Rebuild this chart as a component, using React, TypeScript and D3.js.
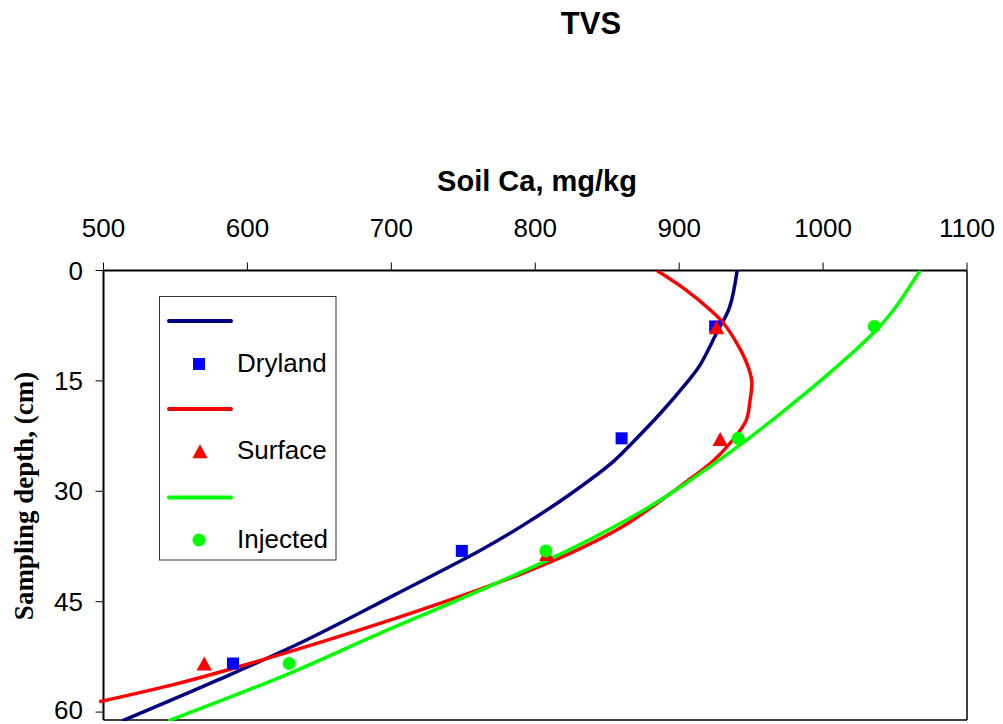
import React from "react";
import * as d3 from "d3";

// ---- Data ----
const xTicks = [500, 600, 700, 800, 900, 1000, 1100];
const yTicks = [0, 15, 30, 45, 60];

const seriesNames = ["Dryland", "Surface", "Injected"];

// observed points: depth (cm) and soil Ca (mg/kg)
const pointDepths = [7.6, 22.8, 38.1, 53.4];
const drylandPoints = [925, 860, 749, 590];
const surfaceDepths = [7.8, 23.0, 38.6, 53.5];
const surfacePoints = [926, 928.5, 808, 570];
const injectedPoints = [1035.6, 941, 807.4, 629];

// fitted curves: depth list + Ca values
const drylandCurveDepth = [0, 5, 8.5, 13, 15.3, 19.4, 23.5, 26, 30.7, 34.8, 38, 44, 50.2, 55.6, 61.2];
const drylandCurveCa = [940.3, 935, 926, 914, 905, 887, 867, 854, 822, 790, 762, 703, 641, 580, 513];

const surfaceCurveDepth = [0, 2.4, 5.6, 7.2, 10.2, 12.6, 15.1, 17.6, 20.4, 23.2, 26, 29, 32, 35, 38, 41, 43.5, 47, 50.5, 53.5, 56.1, 58.6];
const surfaceCurveCa = [884.5, 903, 923, 931, 941, 947, 950.5, 949.3, 946.5, 936.5, 923, 903, 882, 859, 829, 793, 759, 707, 651, 600, 552, 497];

const injectedCurveDepth = [0, 5.4, 8.5, 13.5, 19.5, 23, 26, 29, 32.5, 38.3, 43.6, 49.3, 55, 61.2];
const injectedCurveCa = [1067.4, 1048.8, 1035, 1007, 970, 947, 926, 904, 876, 820, 760, 692, 626, 545];

const W = 1003;
const H = 724;
const left = 103.5;
const right = 967;
const top = 270.5;
const bottom = 720;

export default function App() {
  const x = d3.scaleLinear().domain([500, 1100]).range([left, right]);
  const y = d3.scaleLinear().domain([0, 61]).range([top, top + 7.36 * 61]);

  const line = d3
    .line<[number, number]>()
    .x((d) => x(d[1]))
    .y((d) => y(d[0]))
    .curve(d3.curveCatmullRom.alpha(0.5));

  const curves = [
    { depth: drylandCurveDepth, ca: drylandCurveCa, color: "#000080" },
    { depth: surfaceCurveDepth, ca: surfaceCurveCa, color: "#FF0000" },
    { depth: injectedCurveDepth, ca: injectedCurveCa, color: "#00FF00" },
  ];

  const font = "Arial, 'Liberation Sans', sans-serif";
  const tri = (cx: number, cy: number, s: number) =>
    `M${cx},${cy - s * 0.55} L${cx + s * 0.55},${cy + s * 0.45} L${cx - s * 0.55},${cy + s * 0.45} Z`;

  return (
    <svg
      width={W}
      height={H}
      style={{ position: "absolute", left: 0, top: 0, background: "#fff" }}
      fontFamily={font}
    >
      <defs>
        <clipPath id="plotClip">
          <rect x={95} y={top} width={right - 95} height={bottom - top + 1} />
        </clipPath>
      </defs>
      <rect x={0} y={0} width={W} height={H} fill="#fff" />

      {/* title */}
      <text x={591} y={34} textAnchor="middle" fontSize={31} fontWeight="bold">
        TVS
      </text>
      <text x={537} y={191} textAnchor="middle" fontSize={29} fontWeight="bold">
        Soil Ca, mg/kg
      </text>

      {/* frame */}
      <line x1={right} x2={right} y1={top} y2={bottom} stroke="#000" strokeWidth={1.5} />
      <line x1={left} x2={right} y1={bottom} y2={bottom} stroke="#000" strokeWidth={1.5} />
      <line x1={left} x2={right} y1={top} y2={top} stroke="#000" strokeWidth={2} />
      <line x1={left} x2={left} y1={top} y2={bottom} stroke="#000" strokeWidth={2} />

      {/* x ticks */}
      {xTicks.map((t) => (
        <g key={t}>
          <line x1={x(t)} x2={x(t)} y1={top} y2={top - 8} stroke="#000" strokeWidth={1} />
          <text x={x(t)} y={237} textAnchor="middle" fontSize={26}>
            {t}
          </text>
        </g>
      ))}
      {/* y ticks */}
      {yTicks.map((t) => (
        <g key={t}>
          <line x1={left - 8} x2={left} y1={y(t)} y2={y(t)} stroke="#000" strokeWidth={1} />
          <text x={83} y={Math.min(y(t) + 9, 719)} textAnchor="end" fontSize={26}>
            {t}
          </text>
        </g>
      ))}

      <text
        transform="translate(33,496) rotate(-90)"
        textAnchor="middle"
        fontSize={27}
        fontWeight="bold"
        fontFamily="'Liberation Serif', 'Times New Roman', serif"
      >
        Sampling depth, (cm)
      </text>

      {/* curves */}
      <g clipPath="url(#plotClip)">
        {curves.map((c, i) => (
          <path
            key={i}
            d={line(c.depth.map((d, j) => [d, c.ca[j]] as [number, number])) || ""}
            fill="none"
            stroke={c.color}
            strokeWidth={3.5}
            strokeLinejoin="round"
          />
        ))}
      </g>

      {/* markers */}
      {drylandPoints.map((v, i) => (
        <rect key={"d" + i} x={x(v) - 6} y={y(pointDepths[i]) - 6} width={12} height={12} fill="#0000FF" />
      ))}
      {surfacePoints.map((v, i) => (
        <path key={"s" + i} d={tri(x(v), y(surfaceDepths[i]), 14)} fill="#FF0000" />
      ))}
      {injectedPoints.map((v, i) => (
        <circle key={"i" + i} cx={x(v)} cy={y(pointDepths[i])} r={6.5} fill="#00FF00" />
      ))}

      {/* legend */}
      <rect x={159.5} y={296.5} width={176.5} height={263.5} fill="#fff" stroke="#333" strokeWidth={1} />
      <line x1={169} x2={231} y1={321} y2={321} stroke="#000080" strokeWidth={4} strokeLinecap="round" />
      <rect x={193} y={358} width={12} height={12} fill="#0000FF" />
      <text x={237} y={372} fontSize={26}>{seriesNames[0]}</text>
      <line x1={169} x2={231} y1={409} y2={409} stroke="#FF0000" strokeWidth={4} strokeLinecap="round" />
      <path d={tri(200, 452, 14)} fill="#FF0000" />
      <text x={237} y={459} fontSize={26}>{seriesNames[1]}</text>
      <line x1={169} x2={231} y1={497.5} y2={497.5} stroke="#00FF00" strokeWidth={4} strokeLinecap="round" />
      <circle cx={199} cy={540} r={6.5} fill="#00FF00" />
      <text x={237} y={548} fontSize={26}>{seriesNames[2]}</text>
    </svg>
  );
}
